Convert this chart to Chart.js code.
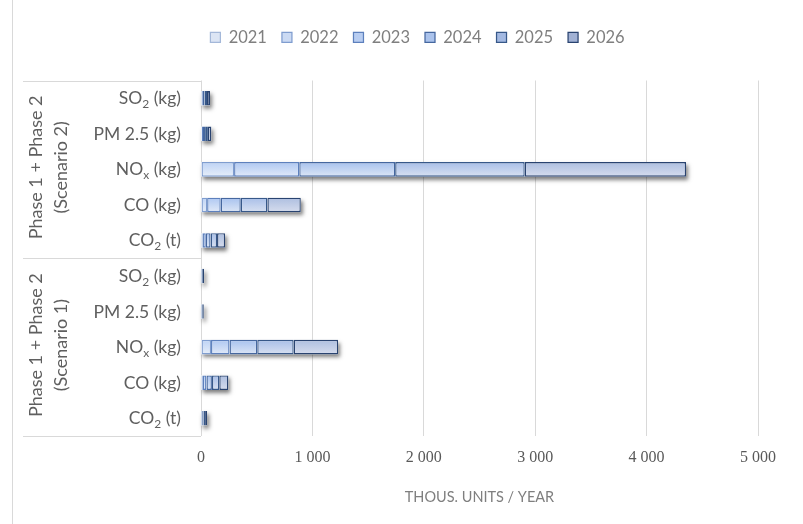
<!DOCTYPE html>
<html>
<head>
<meta charset="utf-8">
<script src="https://cdn.jsdelivr.net/npm/chart.js@4/dist/chart.umd.min.js"></script>
<style>
  html, body { margin: 0; padding: 0; background: #ffffff; }
  #wrap { width: 803px; height: 524px; position: relative; }
</style>
</head>
<body>
<div id="wrap"><canvas id="c" width="803" height="524"></canvas></div>
<script>
// Years shown as stacked segments
const years = ['2021', '2022', '2023', '2024', '2025', '2026'];

// Pollutant rows ("_" marks the following character as a subscript)
const pollutants = ['SO_2 (kg)', 'PM 2.5 (kg)', 'NO_x (kg)', 'CO (kg)', 'CO_2 (t)'];

// Group captions (two lines each), top group first
const groups = [
  ['Phase 1 + Phase 2', '(Scenario 2)'],
  ['Phase 1 + Phase 2', '(Scenario 1)']
];

const categories = groups.flatMap(() => pollutants);

// Thousand units per year; rows: Scenario 2 (SO2, PM2.5, NOx, CO, CO2), then Scenario 1 (same order)
const v2021 = [0, 0, 0, 0, 0,      0, 0, 0, 0, 0];
const v2022 = [5, 6, 297, 55, 14,  2, 2, 90, 16, 4];
const v2023 = [11, 12, 585, 122, 29, 4, 3, 166, 33, 7];
const v2024 = [16, 19, 861, 180, 43, 5, 5, 249, 49, 11];
const v2025 = [22, 25, 1163, 239, 58, 7, 7, 327, 66, 15];
const v2026 = [27, 31, 1448, 300, 72, 9, 8, 399, 82, 18];

const xTickLabels = ['0', '1 000', '2 000', '3 000', '4 000', '5 000'];
const xTitle = 'THOUS. UNITS / YEAR';

const seriesValues = [v2021, v2022, v2023, v2024, v2025, v2026];

// Styling
const fillTop    = ['#d3e0f6', '#bed3f5', '#afc8f2', '#a8c2ee', '#a9bfe8', '#aebfe0'];
const fillBottom = ['#edf2fb', '#e6eef9', '#e0e9f8', '#dbe5f5', '#d7e0f1', '#d5dced'];
const borderCols = ['#a4b8d9', '#7f9dcf', '#5d80bd', '#45679f', '#375889', '#294370'];
const legendFill = ['#dce5f4', '#cbdaf3', '#b8cdf1', '#abc3ec', '#a3b9e2', '#a1b1d4'];

const LABEL_FONT = 'Lato';
const labelColor = '#5f5f5f';
const lineColor = '#d9d9d9';

function segmentFill(ctx, i) {
  const chart = ctx.chart;
  const ys = chart.scales && chart.scales.y;
  if (!ys || ctx.dataIndex === undefined || !chart.chartArea) return fillTop[i];
  const yc = ys.getPixelForValue(ctx.dataIndex);
  const g = chart.ctx.createLinearGradient(0, yc - 7, 0, yc + 7);
  g.addColorStop(0, fillTop[i]);
  g.addColorStop(1, fillBottom[i]);
  return g;
}

// Push the plot area down below the legend
const legendGap = {
  id: 'legendGap',
  beforeInit(chart) {
    const legend = chart.legend;
    if (!legend) return;
    const fit = legend.fit;
    legend.fit = function () {
      fit.call(this);
      this.height += 25;
    };
  }
};

// Soft drop shadow under every stacked bar
const barShadow = {
  id: 'barShadow',
  beforeDatasetsDraw(chart) {
    const { ctx } = chart;
    const xs = chart.scales.x, ys = chart.scales.y;
    const meta = chart.getDatasetMeta(0);
    categories.forEach((_, i) => {
      const total = seriesValues.reduce((s, arr) => s + arr[i], 0);
      if (total <= 0) return;
      const el = meta.data[i];
      const h = el ? el.height : 14;
      const x0 = xs.getPixelForValue(0);
      const x1 = xs.getPixelForValue(total);
      const yc = ys.getPixelForValue(i);
      ctx.save();
      ctx.shadowColor = 'rgba(0,0,0,0.5)';
      ctx.shadowBlur = 4;
      ctx.shadowOffsetX = 2;
      ctx.shadowOffsetY = 3;
      ctx.fillStyle = '#ffffff';
      ctx.fillRect(x0, yc - h / 2, x1 - x0, h);
      ctx.restore();
    });
  }
};

function drawRich(ctx, str, xRight, y) {
  const parts = [];
  let buf = '';
  for (let k = 0; k < str.length; k++) {
    if (str[k] === '_' && k + 1 < str.length) {
      if (buf) parts.push({ t: buf, sub: false });
      parts.push({ t: str[k + 1], sub: true });
      buf = '';
      k++;
    } else {
      buf += str[k];
    }
  }
  if (buf) parts.push({ t: buf, sub: false });
  const mainFont = '17.5px ' + LABEL_FONT;
  const subFont = '12px ' + LABEL_FONT;
  let total = 0;
  parts.forEach(p => {
    ctx.font = p.sub ? subFont : mainFont;
    p.w = ctx.measureText(p.t).width;
    total += p.w;
  });
  let x = xRight - total;
  ctx.textAlign = 'left';
  ctx.textBaseline = 'alphabetic';
  parts.forEach(p => {
    ctx.font = p.sub ? subFont : mainFont;
    ctx.fillText(p.t, x, p.sub ? y + 9.5 : y + 6);
    x += p.w;
  });
}

// Two-level category axis: pollutant names, rotated group captions, divider lines
const categoryAxis = {
  id: 'categoryAxis',
  afterDraw(chart) {
    const { ctx, chartArea } = chart;
    const ys = chart.scales.y;
    ctx.save();
    ctx.strokeStyle = lineColor;
    ctx.lineWidth = 1;
    // outer frame edge
    ctx.beginPath();
    ctx.moveTo(12.5, 0);
    ctx.lineTo(12.5, 524);
    ctx.stroke();

    const per = pollutants.length;
    const bounds = [chartArea.top];
    for (let g = 1; g < groups.length; g++) {
      bounds.push((ys.getPixelForValue(g * per - 1) + ys.getPixelForValue(g * per)) / 2);
    }
    bounds.push(chartArea.bottom);
    ctx.beginPath();
    bounds.forEach(b => {
      const yy = Math.round(b) + 0.5;
      ctx.moveTo(23, yy);
      ctx.lineTo(chartArea.left, yy);
    });
    ctx.stroke();

    ctx.fillStyle = labelColor;
    categories.forEach((lab, i) => {
      drawRich(ctx, lab, chartArea.left - 20, ys.getPixelForValue(i));
    });

    ctx.font = '18px ' + LABEL_FONT;
    ctx.textAlign = 'center';
    ctx.textBaseline = 'middle';
    groups.forEach((lines, g) => {
      const yMid = (bounds[g] + bounds[g + 1]) / 2 - 2;
      ctx.save();
      ctx.translate(36, yMid);
      ctx.rotate(-Math.PI / 2);
      ctx.fillText(lines[0], 0, 0);
      ctx.fillText(lines[1], 0, 25);
      ctx.restore();
    });
    ctx.restore();
  }
};

new Chart(document.getElementById('c'), {
  type: 'bar',
  data: {
    labels: categories,
    datasets: years.map((yr, i) => ({
      label: yr,
      data: seriesValues[i],
      backgroundColor: ctx => segmentFill(ctx, i),
      borderColor: borderCols[i],
      borderWidth: 1.4,
      borderSkipped: false,
      barPercentage: 0.41,
      categoryPercentage: 1
    }))
  },
  options: {
    indexAxis: 'y',
    responsive: false,
    devicePixelRatio: 1,
    animation: false,
    layout: { padding: { left: 77, right: 45, top: 14, bottom: 0 } },
    plugins: {
      legend: {
        position: 'top',
        align: 'center',
        labels: {
          boxWidth: 10,
          boxHeight: 10,
          padding: 15,
          color: '#7f7f7f',
          font: { family: LABEL_FONT, size: 16.5 },
          generateLabels: () => years.map((yr, i) => ({
            text: yr,
            fillStyle: legendFill[i],
            strokeStyle: borderCols[i],
            lineWidth: 1.25,
            fontColor: '#7f7f7f',
            hidden: false,
            datasetIndex: i
          }))
        }
      },
      tooltip: { enabled: false }
    },
    scales: {
      x: {
        type: 'linear',
        stacked: true,
        min: 0,
        max: 5000,
        afterFit: axis => { axis.height = 88; },
        ticks: {
          stepSize: 1000,
          padding: 12,
          color: '#595959',
          font: { family: 'Liberation Serif', size: 16 },
          callback: (v, i) => xTickLabels[i]
        },
        grid: { color: lineColor, lineWidth: 1, drawTicks: false },
        border: { display: false },
        title: {
          display: true,
          text: xTitle,
          color: '#7f7f7f',
          font: { family: LABEL_FONT, size: 14.5 },
          padding: { top: 0, bottom: 18 }
        }
      },
      y: {
        type: 'category',
        stacked: true,
        afterFit: axis => { axis.width = 124; },
        ticks: { display: false },
        grid: { display: false },
        border: { display: false }
      }
    }
  },
  plugins: [legendGap, barShadow, categoryAxis]
});
</script>
</body>
</html>
